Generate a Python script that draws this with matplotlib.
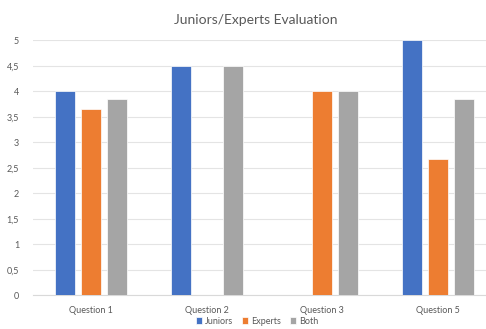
import numpy as np
import matplotlib.pyplot as plt

plt.rcParams['font.family'] = ['Lato', 'DejaVu Sans']

# Data
categories = ['Question 1', 'Question 2', 'Question 3', 'Question 5']
juniors = [4.0, 4.5, 0.0, 5.0]
experts = [3.66, 0.0, 4.0, 2.67]
both = [3.84, 4.5, 4.0, 3.84]
yticks = [0, 0.5, 1, 1.5, 2, 2.5, 3, 3.5, 4, 4.5, 5]

colors = ['#4472C4', '#ED7D31', '#A5A5A5']
text_col = '#595959'

fig = plt.figure(figsize=(4.86, 3.29), dpi=100)
ax = fig.add_axes([33/486, 1 - 295.3/329, 463/486, 255/329])

x = np.arange(len(categories))
w = 0.173
step = 0.225
for k, (vals, name) in enumerate(zip([juniors, experts, both], ['Juniors', 'Experts', 'Both'])):
    ax.bar(x + (k - 1) * step, vals, width=w, color=colors[k], label=name,
           edgecolor='white', linewidth=0.5, zorder=3)

ax.set_xlim(-0.5, 3.5)
ax.set_ylim(0, 5)
ax.set_yticks(yticks)
ax.set_yticklabels([str(t).replace('.', ',') if t % 1 else str(int(t)) for t in yticks])
ax.set_xticks(x)
ax.set_xticklabels(categories)
ax.tick_params(axis='both', length=0, labelsize=6.5, labelcolor=text_col)
ax.tick_params(axis='x', pad=8)
ax.tick_params(axis='y', pad=10)
ax.grid(axis='y', color='#E4E4E4', linewidth=0.8, zorder=0)
for s in ['top', 'right', 'left']:
    ax.spines[s].set_visible(False)
ax.spines['bottom'].set_color('#D9D9D9')

fig.text(256/486, 1 - 20/329, 'Juniors/Experts Evaluation', ha='center', va='center',
         fontsize=10, color=text_col)

ax.legend(loc='center', bbox_to_anchor=(257/486, 1 - 321/329), bbox_transform=fig.transFigure,
          ncol=3, frameon=False, fontsize=6.5, handlelength=0.7, handleheight=0.7,
          handletextpad=0.3, columnspacing=1.0, labelcolor=text_col)

fig.savefig('out.png', dpi=100)
